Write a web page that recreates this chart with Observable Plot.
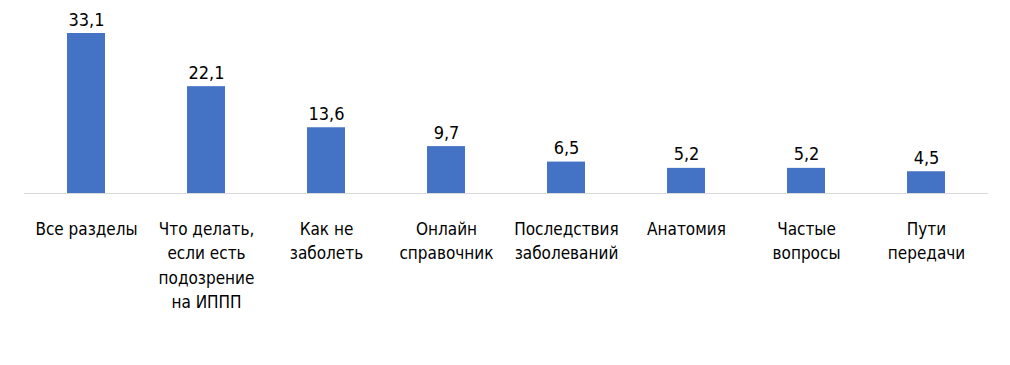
<!DOCTYPE html>
<html>
<head>
<meta charset="utf-8">
<script src="https://cdn.jsdelivr.net/npm/d3@7"></script>
<script src="https://cdn.jsdelivr.net/npm/@observablehq/plot@0.6"></script>
<style>
  html, body { margin: 0; padding: 0; background: #fff; }
  #chart svg { display: block; }
  #chart svg text { font-stretch: condensed; }
</style>
</head>
<body>
<div id="chart"></div>
<script>
const categories = [
  "Все разделы",
  "Что делать, если есть подозрение на ИППП",
  "Как не заболеть",
  "Онлайн справочник",
  "Последствия заболеваний",
  "Анатомия",
  "Частые вопросы",
  "Пути передачи"
];
const tickLabels = [
  "Все разделы",
  "Что делать,\nесли есть\nподозрение\nна ИППП",
  "Как не\nзаболеть",
  "Онлайн\nсправочник",
  "Последствия\nзаболеваний",
  "Анатомия",
  "Частые\nвопросы",
  "Пути\nпередачи"
];
const values = [33.1, 22.1, 13.6, 9.7, 6.5, 5.2, 5.2, 4.5];

const data = categories.map((c, i) => ({category: c, value: values[i]}));
const labelOf = new Map(categories.map((c, i) => [c, tickLabels[i]]));
const fmt = v => v.toFixed(1).replace(".", ",");
const FONT = "'DejaVu Sans Condensed', 'DejaVu Sans', sans-serif";

const chart = Plot.plot({
  width: 1010,
  height: 365,
  marginLeft: 24,
  marginRight: 22,
  marginTop: 33,
  marginBottom: 172,
  style: {fontFamily: FONT, color: "#000", background: "#fff"},
  x: {domain: categories, paddingInner: 0.685, paddingOuter: 0.3425, label: null},
  y: {domain: [0, 33.1], axis: null},
  marks: [
    Plot.barY(data, {x: "category", y: "value", fill: "#4472C4"}),
    Plot.ruleY([0], {stroke: "#d9d9d9", strokeWidth: 1}),
    Plot.text(data, {
      x: "category", y: "value", text: d => fmt(d.value),
      lineAnchor: "bottom", dy: -8, fontSize: 18, fill: "#000", fontFamily: FONT
    }),
    Plot.axisX({
      tickSize: 0, tickPadding: 24, tickFormat: d => labelOf.get(d),
      fontSize: 17, lineHeight: 1.44, fill: "#000", fontFamily: FONT, label: null
    })
  ]
});
document.getElementById("chart").appendChild(chart);
</script>
</body>
</html>
